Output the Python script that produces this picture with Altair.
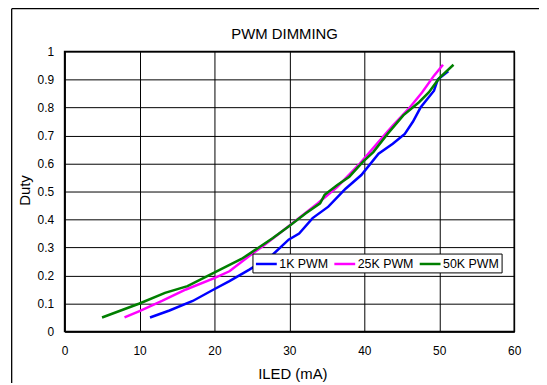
import altair as alt
import pandas as pd

TITLE = "PWM DIMMING"
X_TITLE = "ILED (mA)"
Y_TITLE = "Duty"
SERIES = ["1K PWM", "25K PWM", "50K PWM"]
COLORS = ["#0000FF", "#FF00FF", "#007F00"]

k1_x = [11.4, 14.0, 17.1, 19.9, 22.0, 24.6, 26.4, 27.8, 29.9, 31.3, 33.1, 35.2, 37.5, 39.6, 41.9, 43.8, 45.4, 46.5, 47.5, 49.3, 49.8, 51.2]
k1_y = [0.05, 0.075, 0.109, 0.15, 0.18, 0.22, 0.25, 0.275, 0.328, 0.35, 0.405, 0.446, 0.51, 0.559, 0.635, 0.671, 0.706, 0.75, 0.80, 0.86, 0.90, 0.93]

k25_x = [8.0, 10.0, 13.0, 16.2, 19.9, 22.0, 24.6, 26.4, 28.7, 31.0, 33.8, 36.4, 39.4, 41.7, 43.8, 45.9, 47.7, 49.3, 50.5]
k25_y = [0.05, 0.073, 0.109, 0.15, 0.19, 0.215, 0.269, 0.304, 0.351, 0.399, 0.458, 0.517, 0.60, 0.671, 0.736, 0.795, 0.854, 0.914, 0.953]

k50_x = [5.0, 10.0, 13.4, 16.4, 19.9, 23.6, 24.8, 27.8, 29.9, 32.2, 34.1, 34.7, 36.4, 38.0, 39.8, 41.2, 43.1, 45.2, 47.3, 48.6, 50.0, 51.9]
k50_y = [0.05, 0.10, 0.138, 0.162, 0.209, 0.259, 0.28, 0.334, 0.375, 0.422, 0.458, 0.488, 0.523, 0.553, 0.606, 0.641, 0.706, 0.772, 0.819, 0.854, 0.905, 0.953]

x_ticks = [0, 10, 20, 30, 40, 50, 60]
y_ticks = [0, 0.1, 0.2, 0.3, 0.4, 0.5, 0.6, 0.7, 0.8, 0.9, 1.0]

rows = []
for name, xs, ys in zip(SERIES, [k1_x, k25_x, k50_x], [k1_y, k25_y, k50_y]):
    for i, (xv, yv) in enumerate(zip(xs, ys)):
        rows.append({"series": name, "ILED": xv, "Duty": yv, "order": i})
df = pd.DataFrame(rows)

FONT = "Liberation Sans"
W, H = 453, 282

lines = alt.Chart(df).mark_line(strokeWidth=2.5).encode(
    x=alt.X("ILED:Q", scale=alt.Scale(domain=[0, 60], nice=False),
            axis=alt.Axis(values=x_ticks, title=X_TITLE, grid=True, ticks=False, tickSize=0,
                          labelFlush=False, labelPadding=14, titleX=229.5, titleY=47.5,
                          titleBaseline="alphabetic", titleAnchor="start", titleAlign="center")),
    y=alt.Y("Duty:Q", scale=alt.Scale(domain=[0, 1], nice=False),
            axis=alt.Axis(values=y_ticks, format="~g", title=Y_TITLE, grid=True, ticks=False, tickSize=0,
                          labelFlush=False, labelPadding=11, titleX=-40, titleY=139.5, titleAngle=270,
                          titleBaseline="middle", titleAlign="center", titleAnchor="start")),
    color=alt.Color("series:N", scale=alt.Scale(domain=SERIES, range=COLORS),
                    legend=alt.Legend(orient="none", legendX=189.3, legendY=203.5,
                                      direction="horizontal", columns=3, title=None, gridAlign="each",
                                      symbolType="M-1,0H2", symbolSize=196, symbolStrokeWidth=2.5,
                                      labelFontSize=12.5, labelFont=FONT, labelColor="black",
                                      labelOffset=8, columnPadding=0, padding=2,
                                      strokeColor="black", fillColor="white")),
    order="order:Q",
)

one = pd.DataFrame({"k": [0]})
title_mark = alt.Chart(one).mark_text(
    text=TITLE, font=FONT, fontSize=15, color="black", align="center", baseline="alphabetic", clip=False
).encode(x=alt.value(221.7), y=alt.value(-12.2))

frame_left = alt.Chart(one).mark_rule(color="black", strokeWidth=1.3, clip=False).encode(
    x=alt.value(-53.3), y=alt.value(-43.2), y2=alt.value(340))
frame_top = alt.Chart(one).mark_rule(color="black", strokeWidth=1.3, clip=False).encode(
    x=alt.value(-53.3), x2=alt.value(480), y=alt.value(-43.2))

chart = alt.layer(lines, title_mark, frame_left, frame_top).properties(
    width=W, height=H,
    autosize=alt.AutoSizeParams(type="none"),
    padding={"left": 57, "top": 42.5, "right": 25, "bottom": 50},
    background="white",
).configure_view(stroke="black", strokeWidth=1.5).configure_axis(
    gridColor="black", gridOpacity=1, gridWidth=1,
    domainColor="black", domainWidth=1.5,
    labelFont=FONT, labelFontSize=12, labelColor="black",
    titleFont=FONT, titleFontSize=15, titleColor="black", titleFontWeight="normal",
)

chart.save("out.html", embed_options={"renderer": "svg", "actions": False})
